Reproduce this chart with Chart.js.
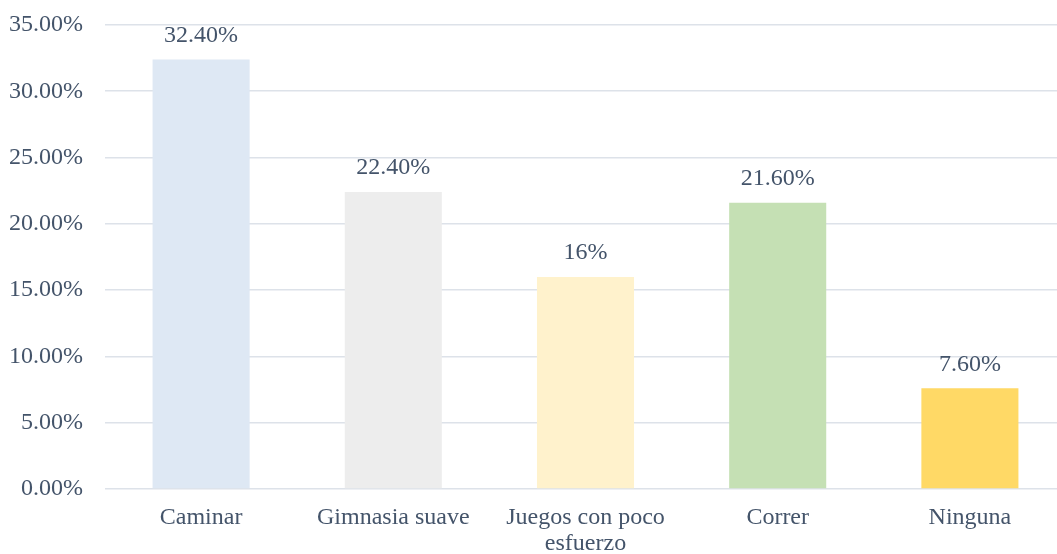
<!DOCTYPE html>
<html>
<head>
<meta charset="utf-8">
<script src="https://cdn.jsdelivr.net/npm/chart.js@4.4.0/dist/chart.umd.min.js"></script>
<style>
  html, body { margin: 0; padding: 0; background: #fff; overflow: hidden; }
  #wrap { width: 1066px; height: 554px; position: relative; }
</style>
</head>
<body>
<div id="wrap"><canvas id="myChart"></canvas></div>
<script>
// actividad física preferida (porcentaje de respuestas)
const categories = ['Caminar', 'Gimnasia suave', ['Juegos con poco', 'esfuerzo'], 'Correr', 'Ninguna'];
const values = [32.4, 22.4, 16, 21.6, 7.6];
const valueLabels = ['32.40%', '22.40%', '16%', '21.60%', '7.60%'];
const barColors = ['#dee8f4', '#ededed', '#fff2cc', '#c5e0b4', '#ffd966'];
const yTicks = [0, 5, 10, 15, 20, 25, 30, 35];

const textColor = '#44546a';
const serif = '"Liberation Serif", "Times New Roman", serif';

// writes the value above each bar
const barLabels = {
  id: 'barLabels',
  afterDatasetsDraw(chart) {
    const ctx = chart.ctx;
    const meta = chart.getDatasetMeta(0);
    ctx.save();
    ctx.font = '24px ' + serif;
    ctx.fillStyle = textColor;
    ctx.textAlign = 'center';
    ctx.textBaseline = 'middle';
    meta.data.forEach((bar, i) => {
      ctx.fillText(valueLabels[i], bar.x, bar.y - 24);
    });
    ctx.restore();
  }
};

const ctx = document.getElementById('myChart').getContext('2d');
const myChart = new Chart(ctx, {
  type: 'bar',
  data: {
    labels: categories,
    datasets: [{
      data: values,
      backgroundColor: barColors,
      borderWidth: 0,
      barPercentage: 0.505,
      categoryPercentage: 1
    }]
  },
  options: {
    responsive: true,
    maintainAspectRatio: false,
    animation: false,
    layout: { padding: { top: 25, right: 0, left: 0, bottom: 0 } },
    plugins: {
      legend: { display: false },
      tooltip: { enabled: false }
    },
    scales: {
      x: {
        grid: { display: false, drawTicks: false },
        border: { display: false },
        ticks: {
          color: textColor,
          font: { family: serif, size: 24, lineHeight: 1.08 },
          padding: 16,
          maxRotation: 0,
          autoSkip: false
        },
        afterFit(scale) { scale.height = 65; }
      },
      y: {
        min: 0,
        max: 35,
        afterBuildTicks(scale) { scale.ticks = yTicks.map(v => ({ value: v })); },
        grid: { color: '#dde2e9', lineWidth: 1.6, drawTicks: false },
        border: { display: false },
        ticks: {
          color: textColor,
          font: { family: serif, size: 24 },
          padding: 22,
          callback: (v) => v.toFixed(2) + '%'
        },
        afterFit(scale) {
          scale.width = 105;
          scale.paddingTop = 0;
          scale.paddingBottom = 0;
        }
      }
    }
  },
  plugins: [barLabels]
});
</script>
</body>
</html>
